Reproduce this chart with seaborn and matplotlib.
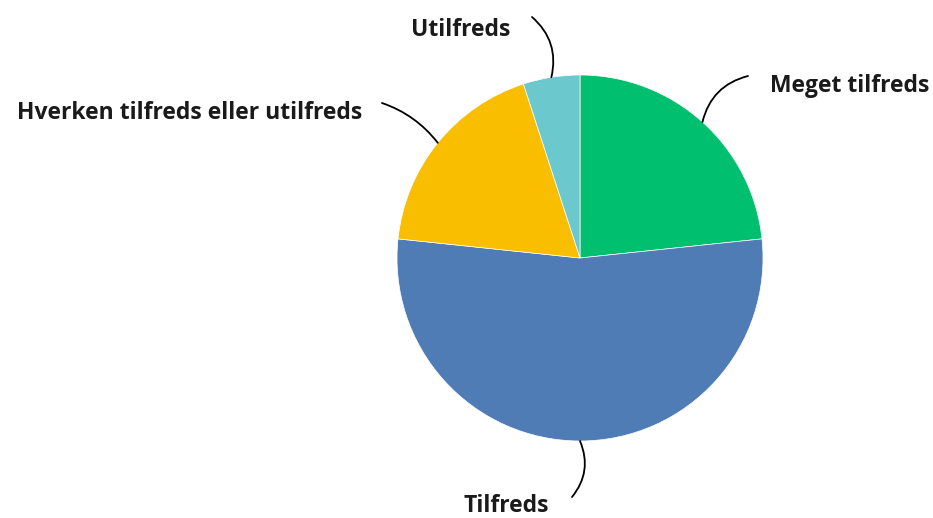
import matplotlib
matplotlib.use("Agg")
import matplotlib.pyplot as plt
import seaborn as sns
import numpy as np

# svar (antal)
labels = ['Meget tilfreds', 'Tilfreds', 'Hverken tilfreds eller utilfreds', 'Utilfreds']
values = [14, 32, 11, 3]
colors = ['#00BF6F', '#507CB6', '#F9BE00', '#6BC8CD']

sns.set_theme(style="white")
plt.rcParams['font.family'] = ['Open Sans', 'DejaVu Sans']

W, H = 933, 518
cx, cy, R = 580, 258, 183  # pie centre / radius in pixels


def px(x, y):
    # pixel -> data coords
    return (x - cx) / R, (cy - y) / R


fig = plt.figure(figsize=(W / 100, H / 100), dpi=100)
ax = fig.add_axes([0, 0, 1, 1])
wedges, _ = ax.pie(values, colors=colors, startangle=90, counterclock=False,
                   radius=1, wedgeprops=dict(linewidth=0.5, edgecolor='white'))
ax.set_xlim(-cx / R, (W - cx) / R)
ax.set_ylim(-(H - cy) / R, cy / R)
ax.set_aspect('auto')
ax.axis('off')

# label text pos, text alignment, leader start, curvature
lab_pos = {
    'Meget tilfreds': ((770, 86), 'left', (748, 76), 0.3),
    'Tilfreds': ((549, 506), 'right', (572, 497), 0.3),
    'Hverken tilfreds eller utilfreds': ((362, 113), 'right', (382, 103), -0.15),
    'Utilfreds': ((510, 30), 'right', (532, 17), -0.3),
}

for w, lab in zip(wedges, labels):
    ang = np.deg2rad((w.theta1 + w.theta2) / 2)
    edge = (np.cos(ang), np.sin(ang))
    (tx, ty), ha, (lx, ly), rad = lab_pos[lab]
    ax.annotate('', xy=edge, xytext=px(lx, ly),
                arrowprops=dict(arrowstyle='-', color='black', lw=1.3,
                                shrinkA=0, shrinkB=0,
                                connectionstyle=f'arc3,rad={rad}'))
    ax.text(*px(tx, ty), lab, ha=ha, va='center', fontsize=16.5,
            fontweight='bold', color='#1a1a1a')

fig.savefig('out.png', dpi=100)
